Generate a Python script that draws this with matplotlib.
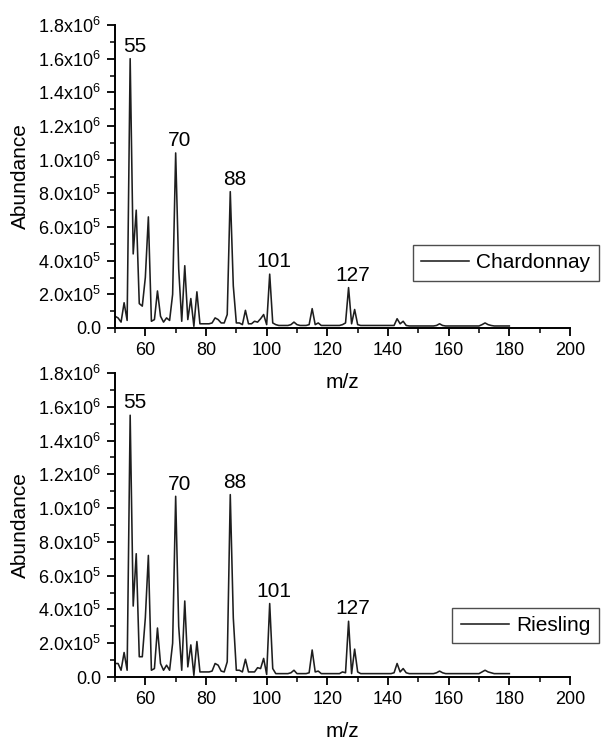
import numpy as np
import matplotlib
matplotlib.use("Agg")
import matplotlib.pyplot as plt
from matplotlib.ticker import MultipleLocator, FuncFormatter

plt.rcParams["font.family"] = ["Liberation Sans", "DejaVu Sans"]
plt.rcParams["mathtext.fontset"] = "custom"
plt.rcParams["mathtext.rm"] = "Liberation Sans"
plt.rcParams["mathtext.it"] = "Liberation Sans:italic"
plt.rcParams["mathtext.bf"] = "Liberation Sans:bold"

# m/z grid (integer masses) and abundances in units of 1e5
mz = list(range(50, 181))

chardonnay = [
    0.7, 0.6, 0.35, 1.5, 0.45, 16.0, 4.4, 7.0, 1.45, 1.3,      # 50-59
    3.0, 6.6, 0.4, 0.5, 2.2, 0.7, 0.35, 0.6, 0.45, 2.0,        # 60-69
    10.4, 3.5, 0.4, 3.7, 0.5, 1.75, 0.1, 2.15, 0.25, 0.25,     # 70-79
    0.25, 0.25, 0.3, 0.6, 0.5, 0.3, 0.3, 0.8, 8.1, 2.5,        # 80-89
    0.3, 0.3, 0.2, 1.05, 0.25, 0.25, 0.4, 0.35, 0.55, 0.8,     # 90-99
    0.2, 3.2, 0.3, 0.2, 0.15, 0.15, 0.15, 0.15, 0.2, 0.35,     # 100-109
    0.2, 0.15, 0.15, 0.15, 0.2, 1.15, 0.2, 0.3, 0.15, 0.15,    # 110-119
    0.15, 0.15, 0.15, 0.15, 0.15, 0.2, 0.3, 2.4, 0.25, 1.1,    # 120-129
    0.2, 0.15, 0.15, 0.15, 0.15, 0.15, 0.15, 0.15, 0.15, 0.15, # 130-139
    0.15, 0.15, 0.15, 0.55, 0.25, 0.4, 0.15, 0.12, 0.12, 0.12, # 140-149
    0.12, 0.12, 0.12, 0.12, 0.12, 0.12, 0.15, 0.25, 0.15, 0.12, # 150-159
    0.12, 0.12, 0.12, 0.12, 0.12, 0.12, 0.12, 0.12, 0.12, 0.12, # 160-169
    0.12, 0.2, 0.3, 0.2, 0.15, 0.12, 0.12, 0.12, 0.12, 0.12,   # 170-179
    0.12,                                                      # 180
]

riesling = [
    0.8, 0.8, 0.4, 1.45, 0.4, 15.5, 4.2, 7.3, 1.2, 1.2,        # 50-59
    3.5, 7.2, 0.4, 0.5, 2.9, 0.8, 0.4, 0.7, 0.4, 2.0,          # 60-69
    10.7, 3.0, 0.4, 4.5, 0.6, 1.9, 0.1, 2.1, 0.3, 0.3,         # 70-79
    0.3, 0.3, 0.35, 0.8, 0.7, 0.35, 0.3, 0.9, 10.8, 3.5,       # 80-89
    0.4, 0.4, 0.3, 1.05, 0.3, 0.3, 0.3, 0.55, 0.5, 1.1,        # 90-99
    0.15, 4.35, 0.5, 0.2, 0.2, 0.2, 0.2, 0.2, 0.25, 0.4,       # 100-109
    0.2, 0.2, 0.2, 0.2, 0.25, 1.6, 0.3, 0.35, 0.2, 0.2,        # 110-119
    0.2, 0.2, 0.2, 0.2, 0.2, 0.3, 0.25, 3.3, 0.2, 1.65,        # 120-129
    0.3, 0.2, 0.2, 0.2, 0.2, 0.2, 0.2, 0.2, 0.2, 0.2,          # 130-139
    0.2, 0.2, 0.25, 0.8, 0.3, 0.5, 0.25, 0.2, 0.2, 0.2,        # 140-149
    0.2, 0.2, 0.2, 0.2, 0.2, 0.2, 0.25, 0.35, 0.25, 0.2,       # 150-159
    0.2, 0.2, 0.2, 0.2, 0.2, 0.2, 0.2, 0.2, 0.2, 0.2,          # 160-169
    0.2, 0.3, 0.4, 0.3, 0.25, 0.2, 0.2, 0.2, 0.2, 0.2,         # 170-179
    0.2,                                                       # 180
]

peak_mz = [55, 70, 88, 101, 127]
samples = ["Chardonnay", "Riesling"]
scale = 1e5


def sci_fmt(v, pos):
    if v <= 0:
        return "0.0"
    e = int(np.floor(np.log10(v) + 1e-9))
    m = v / 10 ** e
    return f"{m:.1f}x10$^{{{e}}}$"


fig = plt.figure(figsize=(6.12, 7.4), dpi=100)
W, H = 612, 740
ax1 = fig.add_axes([115 / W, 1 - 328 / H, 455 / W, 303 / H])
ax2 = fig.add_axes([115 / W, 1 - 677 / H, 455 / W, 304 / H])
legend_y = [1 - 263 / H, 1 - 625.5 / H]

for ax, series, name, ly in zip([ax1, ax2], [chardonnay, riesling], samples, legend_y):
    # transparent background so the lower panel doesn't hide the upper x label
    ax.set_facecolor("none")
    vals = np.array(series) * scale
    ax.plot(mz, vals, color="#1e1e1e", lw=1.15, label=name)

    for p in peak_mz:
        v = vals[mz.index(p)]
        ax.annotate(str(p), (p, v), xytext=(3, 2), textcoords="offset points",
                    ha="center", va="bottom", fontsize=15)

    ax.set_xlim(50, 200)
    ax.set_ylim(0, 1.8e6)
    ax.xaxis.set_major_locator(MultipleLocator(20))
    ax.xaxis.set_minor_locator(MultipleLocator(10))
    ax.yaxis.set_major_locator(MultipleLocator(2e5))
    ax.yaxis.set_minor_locator(MultipleLocator(1e5))
    ax.yaxis.set_major_formatter(FuncFormatter(sci_fmt))

    for s in ["top", "right"]:
        ax.spines[s].set_visible(False)
    for s in ["left", "bottom"]:
        ax.spines[s].set_linewidth(1.4)
    ax.tick_params(which="major", direction="out", length=6, width=1.3,
                   labelsize=13, pad=4)
    ax.tick_params(which="minor", direction="out", length=3.5, width=1.1)

    ax.set_xlabel("m/z", fontsize=15, labelpad=10)
    ax.set_ylabel("Abundance", fontsize=15, labelpad=6)

    leg = ax.legend(loc="center right", bbox_to_anchor=(609 / W, ly),
                    bbox_transform=fig.transFigure, fontsize=15, frameon=True,
                    fancybox=False, handlelength=2.3, handletextpad=0.35,
                    borderpad=0.4)
    leg.get_frame().set_edgecolor("#222222")
    leg.get_frame().set_linewidth(1.0)

fig.savefig("out.png", dpi=100)
